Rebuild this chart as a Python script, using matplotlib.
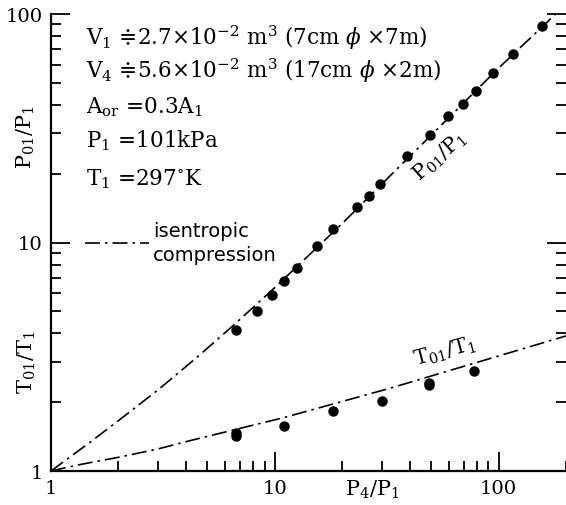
import matplotlib
matplotlib.use("Agg")
import matplotlib.pyplot as plt
from matplotlib.lines import Line2D
from matplotlib.ticker import FixedLocator, NullFormatter, FixedFormatter

plt.rcParams['font.family'] = ['DejaVu Serif', 'DejaVu Sans']
plt.rcParams['mathtext.fontset'] = 'dejavuserif'

# measured data (P4/P1 on x)
p_x = [6.7, 8.3, 9.7, 11.0, 12.5, 15.4, 18.2, 23.2, 26.3, 29.4, 38.8, 49.2,
       59.2, 69.1, 78.9, 94.0, 115.5, 155.6]
p_y = [4.14, 5.0, 5.9, 6.8, 7.7, 9.7, 11.4, 14.3, 16.0, 18.0, 23.9, 29.5,
       35.8, 40.4, 46.0, 55.2, 66.8, 88.6]

t_x = [6.7, 6.7, 11.0, 18.2, 30.0, 48.7, 48.7, 77.3]
t_y = [1.42, 1.46, 1.57, 1.83, 2.02, 2.37, 2.42, 2.74]

# isentropic compression curves
iso_p_x = [1, 1.5, 2, 3, 4.5, 6.5, 10, 20, 35, 50, 100, 180]
iso_p_y = [1, 1.34, 1.66, 2.26, 3.15, 4.32, 6.35, 12.1, 20.9, 29.5, 58.0, 100]
iso_t_x = [1, 1.3, 2.0, 3.0, 4.17, 10.9, 32.6, 200.0]
iso_t_y = [1, 1.06, 1.148, 1.248, 1.357, 1.71, 2.30, 3.90]

info_lines = [
    r"V$_1$ ≑2.7×10$^{-2}$ m$^3$ (7cm $\phi$ ×7m)",
    r"V$_4$ ≑5.6×10$^{-2}$ m$^3$ (17cm $\phi$ ×2m)",
    r"A$_{\rm or}$ =0.3A$_1$",
    r"P$_1$ =101kPa",
    r"T$_1$ =297$^{\circ}$K",
]

W, H = 566, 506
fig = plt.figure(figsize=(W / 100, H / 100), dpi=100)
ax = fig.add_axes([51 / W, 34 / H, 515 / W, 457 / H])
ax.set_xscale('log')
ax.set_yscale('log')
ax.set_xlim(1, 200)
ax.set_ylim(1, 100)

dash = (0, (9, 3, 1.5, 3))
ax.plot(iso_p_x, iso_p_y, color='black', lw=1.2, ls=dash)
ax.plot(iso_t_x, iso_t_y, color='black', lw=1.2, ls=dash)
ax.plot(p_x, p_y, 'o', color='black', ms=6.5)
ax.plot(t_x, t_y, 'o', color='black', ms=6.5)

for s in ['top', 'right']:
    ax.spines[s].set_visible(False)
for s in ['left', 'bottom']:
    ax.spines[s].set_linewidth(1.6)

majors = [1, 10, 100]
minors = [m * d for d in [1, 10, 100] for m in range(2, 10)]
ax.xaxis.set_major_locator(FixedLocator(majors))
ax.yaxis.set_major_locator(FixedLocator(majors))
ax.xaxis.set_minor_locator(FixedLocator(minors))
ax.yaxis.set_minor_locator(FixedLocator(minors))
ax.xaxis.set_major_formatter(FixedFormatter(['1', '10', '100']))
ax.yaxis.set_major_formatter(FixedFormatter(['1', '10', '100']))
ax.xaxis.set_minor_formatter(NullFormatter())
ax.yaxis.set_minor_formatter(NullFormatter())
ax.tick_params(which='both', direction='in', right=True, top=False, width=1.3,
               labelsize=14)
ax.tick_params(which='major', length=14, pad=6)
ax.tick_params(which='minor', length=7)

# axis titles
fig.text(26 / W, 1 - 137 / H, r"P$_{01}$/P$_1$", rotation=90, ha='center',
         va='center', fontsize=15)
fig.text(27 / W, 1 - 362 / H, r"T$_{01}$/T$_1$", rotation=90, ha='center',
         va='center', fontsize=15)
fig.text(372 / W, 1 - 490 / H, r"P$_4$/P$_1$", ha='center', va='center',
         fontsize=15)

# curve labels
ax.text(0.755, 0.69, r"P$_{01}$/P$_1$", transform=ax.transAxes, rotation=41,
        ha='center', va='center', fontsize=15)
ax.text(0.765, 0.262, r"T$_{01}$/T$_1$", transform=ax.transAxes, rotation=15,
        ha='center', va='center', fontsize=15)

# conditions
base = [45, 78, 113, 147, 185]
for line, b in zip(info_lines, base):
    fig.text(86 / W, 1 - b / H, line, ha='left', va='baseline', fontsize=15.5)

handle = Line2D([], [], color='black', lw=1.2, ls=dash)
leg = ax.legend([handle], ["isentropic\ncompression"], loc='center left',
                bbox_to_anchor=(0.066, 0.5), frameon=False, borderpad=0,
                borderaxespad=0, handlelength=3.3, handletextpad=0.2,
                prop={'family': 'DejaVu Sans', 'size': 14})
leg.get_texts()[0].set_linespacing(1.35)

fig.savefig('out.png', dpi=100)
